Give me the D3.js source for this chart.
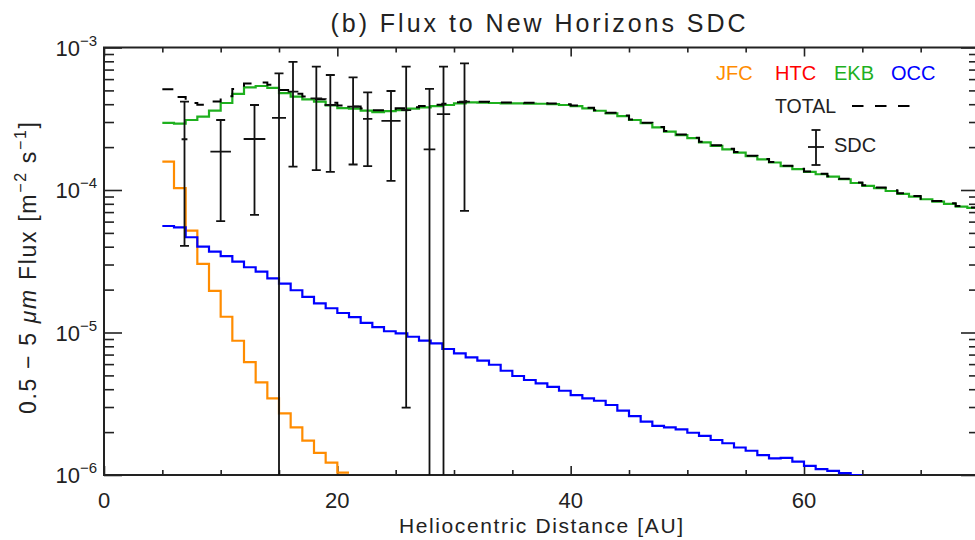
<!DOCTYPE html>
<html>
<head>
<meta charset="utf-8">
<script src="https://cdn.jsdelivr.net/npm/d3@7"></script>
<style>
  body { margin: 0; background: #fff; }
  text { font-family: "Liberation Sans", Arial, sans-serif; fill: #222; }
</style>
</head>
<body>
<svg id="chart" width="975" height="540"></svg>
<script>
// bin start (AU), each bin is 1 AU wide
var binStart = [5,6,7,8,9,10,11,12,13,14,15,16,17,18,19,20,21,22,23,24,25,26,27,28,29,30,
    31,32,33,34,35,36,37,38,39,40,41,42,43,44,45,46,47,48,49,50,51,52,53,54,55,56,57,58,59,60,
    61,62,63,64,65,66,67,68,69,70,71,72,73,74];

var jfc = [1.58e-4,1.03e-4,5.18e-5,3.03e-5,1.96e-5,1.29e-5,8.75e-6,6.2e-6,4.47e-6,3.45e-6,
    2.71e-6,2.16e-6,1.74e-6,1.43e-6,1.22e-6,1.04e-6];

var htc = [];

var ekb = [2.96e-4,2.92e-4,3.10e-4,3.27e-4,3.61e-4,4.08e-4,4.72e-4,5.25e-4,5.37e-4,5.20e-4,
    4.78e-4,4.52e-4,4.33e-4,4.17e-4,3.93e-4,3.76e-4,3.72e-4,3.61e-4,3.52e-4,3.58e-4,
    3.64e-4,3.72e-4,3.80e-4,3.88e-4,3.95e-4,4.06e-4,4.12e-4,4.10e-4,4.08e-4,4.06e-4,
    4.05e-4,4.04e-4,4.03e-4,4.00e-4,3.95e-4,3.88e-4,3.74e-4,3.60e-4,3.45e-4,3.30e-4,
    3.10e-4,2.94e-4,2.75e-4,2.57e-4,2.43e-4,2.31e-4,2.16e-4,2.04e-4,1.93e-4,1.83e-4,
    1.73e-4,1.64e-4,1.56e-4,1.47e-4,1.40e-4,1.34e-4,1.29e-4,1.24e-4,1.19e-4,1.12e-4,
    1.07e-4,1.03e-4,9.84e-5,9.38e-5,8.98e-5,8.61e-5,8.28e-5,7.98e-5,7.64e-5,7.48e-5];

var occ = [5.59e-5,5.47e-5,4.66e-5,4.00e-5,3.69e-5,3.44e-5,3.14e-5,2.87e-5,2.67e-5,2.40e-5,
    2.20e-5,1.98e-5,1.78e-5,1.60e-5,1.48e-5,1.37e-5,1.28e-5,1.17e-5,1.09e-5,1.02e-5,
    9.87e-6,9.34e-6,8.76e-6,8.40e-6,7.66e-6,7.14e-6,6.70e-6,6.34e-6,5.94e-6,5.39e-6,
    4.95e-6,4.64e-6,4.40e-6,4.16e-6,3.90e-6,3.64e-6,3.45e-6,3.32e-6,3.10e-6,2.83e-6,
    2.59e-6,2.37e-6,2.21e-6,2.16e-6,2.09e-6,1.98e-6,1.88e-6,1.76e-6,1.67e-6,1.56e-6,
    1.48e-6,1.38e-6,1.31e-6,1.32e-6,1.24e-6,1.16e-6,1.10e-6,1.07e-6,1.03e-6,1.00e-6];

var total = [5.10e-4,4.50e-4,4.08e-4,3.97e-4,4.18e-4,4.55e-4,5.12e-4,5.60e-4,5.68e-4,5.47e-4,
    5.03e-4,4.74e-4,4.53e-4,4.34e-4,4.09e-4,3.91e-4,3.85e-4,3.73e-4,3.63e-4,3.68e-4,
    3.74e-4,3.81e-4,3.89e-4,3.96e-4,4.03e-4,4.13e-4,4.19e-4,4.16e-4,4.14e-4,4.11e-4,
    4.10e-4,4.09e-4,4.07e-4,4.04e-4,3.99e-4,3.92e-4,3.77e-4,3.63e-4,3.48e-4,3.33e-4,
    3.13e-4,2.96e-4,2.77e-4,2.59e-4,2.45e-4,2.33e-4,2.18e-4,2.06e-4,1.95e-4,1.85e-4,
    1.74e-4,1.65e-4,1.57e-4,1.48e-4,1.41e-4,1.35e-4,1.30e-4,1.25e-4,1.20e-4,1.13e-4,
    1.08e-4,1.04e-4,9.94e-5,9.47e-5,9.07e-5,8.69e-5,8.36e-5,8.06e-5,7.72e-5,7.55e-5];

// SDC measurements (0 = lower end below the plot)
var sdcDist = [6.9,10.0,12.9,15.0,16.2,18.2,19.4,21.35,22.6,24.6,25.9,27.9,29.1,30.9];
var sdcFlux = [2.27e-4,1.86e-4,2.28e-4,3.21e-4,4.90e-4,4.40e-4,3.95e-4,3.85e-4,3.16e-4,3.06e-4,3.64e-4,1.93e-4,3.41e-4,4.17e-4];
var sdcHigh = [4.17e-4,3.10e-4,3.95e-4,6.59e-4,7.94e-4,7.33e-4,6.41e-4,6.18e-4,4.85e-4,4.95e-4,7.33e-4,5.12e-4,7.33e-4,7.74e-4];
var sdcLow  = [4.06e-5,6.05e-5,6.68e-5,0,1.46e-4,1.38e-4,1.34e-4,1.51e-4,1.47e-4,1.16e-4,2.97e-6,0,0,7.13e-5];
var sdcDx   = [0.25,0.88,0.93,0.6,0.46,0.5,0.5,0.5,0.4,0.82,0.43,0.5,0.57,0.46];

var xMajor = [0,20,40,60];
var xMinor = [5,10,15,25,30,35,45,50,55,65,70,75];
var yMajor = [1e-6,1e-5,1e-4,1e-3];
var yExp = ["\u22126","\u22125","\u22124","\u22123"];

var colors = {jfc: "#ff8c00", htc: "#ff0000", ekb: "#1eb01e", occ: "#0000ff", total: "#000"};

var svg = d3.select("#chart");
var x = d3.scaleLinear().domain([0, 75]).range([104, 979]);
var y = d3.scaleLog().domain([1e-6, 1e-3]).range([475, 47.5]);
var pTop = y.range()[1], pBottom = y.range()[0], pLeft = x.range()[0], pRight = x.range()[1];

var yMinor = [];
yMajor.slice(0, 3).forEach(function(d){
    for (var k = 2; k <= 9; k++) yMinor.push(d * k);
});

svg.append("defs").append("clipPath").attr("id", "plotclip")
    .append("rect")
    .attr("x", pLeft).attr("y", pTop)
    .attr("width", pRight - pLeft).attr("height", pBottom - pTop);

// ticks (inward, all four sides)
function tickAxis(axis, transform, vals, size){
    var g = svg.append("g").attr("transform", transform)
        .call(axis.tickValues(vals).tickSize(size).tickFormat(""));
    g.select(".domain").remove();
    g.selectAll(".tick line").attr("stroke", "#222").attr("stroke-width", 1.6);
    return g;
}
tickAxis(d3.axisBottom(x), "translate(0," + pBottom + ")", xMajor, -9);
tickAxis(d3.axisBottom(x), "translate(0," + pBottom + ")", xMinor, -5);
tickAxis(d3.axisTop(x), "translate(0," + pTop + ")", xMajor, -9);
tickAxis(d3.axisTop(x), "translate(0," + pTop + ")", xMinor, -5);
tickAxis(d3.axisLeft(y), "translate(" + pLeft + ",0)", yMajor, -18);
tickAxis(d3.axisLeft(y), "translate(" + pLeft + ",0)", yMinor, -10);
tickAxis(d3.axisRight(y), "translate(" + pRight + ",0)", yMajor, -18);
tickAxis(d3.axisRight(y), "translate(" + pRight + ",0)", yMinor, -10);

svg.append("rect")
    .attr("x", pLeft).attr("y", pTop)
    .attr("width", pRight - pLeft).attr("height", pBottom - pTop)
    .attr("fill", "none").attr("stroke", "#222").attr("stroke-width", 2);

// tick labels
svg.append("g").selectAll("text").data(xMajor).join("text")
    .attr("x", function(d){ return x(d); })
    .attr("y", 508)
    .attr("text-anchor", "middle")
    .attr("font-size", 22)
    .text(function(d){ return d; });

var yl = svg.append("g").selectAll("text").data(yMajor).join("text")
    .attr("x", 97)
    .attr("y", function(d){ return y(d) + 8; })
    .attr("text-anchor", "end")
    .attr("font-size", 22);
yl.append("tspan").text("10");
yl.append("tspan").attr("font-size", 15).attr("dy", -10)
    .text(function(d, i){ return yExp[i]; });

// step lines
var line = d3.line()
    .x(function(d){ return x(d[0]); })
    .y(function(d){ return y(d[1]); })
    .curve(d3.curveStepAfter);

function steps(vals){
    var pts = vals.map(function(v, i){ return [binStart[i], v]; });
    if (vals.length) pts.push([binStart[vals.length - 1] + 1, vals[vals.length - 1]]);
    return pts;
}

var plot = svg.append("g").attr("clip-path", "url(#plotclip)");

[["jfc", jfc], ["htc", htc], ["occ", occ], ["ekb", ekb]].forEach(function(s){
    if (!s[1].length) return;
    plot.append("path")
        .attr("d", line(steps(s[1])))
        .attr("fill", "none")
        .attr("stroke", colors[s[0]])
        .attr("stroke-width", 2.2);
});

plot.append("path")
    .attr("d", line(steps(total)))
    .attr("fill", "none")
    .attr("stroke", "#000")
    .attr("stroke-width", 2)
    .attr("stroke-dasharray", "11,12");

// SDC error bars
var bars = plot.selectAll("g.sdc").data(sdcDist).join("g").attr("class", "sdc")
    .attr("stroke", "#111").attr("stroke-width", 1.8);
bars.append("line")
    .attr("x1", function(d){ return x(d); }).attr("x2", function(d){ return x(d); })
    .attr("y1", function(d, i){ return y(sdcHigh[i]); })
    .attr("y2", function(d, i){ return sdcLow[i] > 0 ? y(sdcLow[i]) : pBottom + 5; });
bars.append("line")
    .attr("x1", function(d){ return x(d) - 4.5; }).attr("x2", function(d){ return x(d) + 4.5; })
    .attr("y1", function(d, i){ return y(sdcHigh[i]); })
    .attr("y2", function(d, i){ return y(sdcHigh[i]); });
bars.filter(function(d, i){ return sdcLow[i] > 0; }).append("line")
    .attr("x1", function(d){ return x(d) - 4.5; }).attr("x2", function(d){ return x(d) + 4.5; })
    .attr("y1", function(d){ var i = sdcDist.indexOf(d); return y(sdcLow[i]); })
    .attr("y2", function(d){ var i = sdcDist.indexOf(d); return y(sdcLow[i]); });
bars.append("line")
    .attr("x1", function(d, i){ return x(d - sdcDx[i]); })
    .attr("x2", function(d, i){ return x(d + sdcDx[i]); })
    .attr("y1", function(d, i){ return y(sdcFlux[i]); })
    .attr("y2", function(d, i){ return y(sdcFlux[i]); });

// legend
var legendNames = [["JFC", "jfc", 716], ["HTC", "htc", 775], ["EKB", "ekb", 834], ["OCC", "occ", 891]];
svg.append("g").selectAll("text").data(legendNames).join("text")
    .attr("x", function(d){ return d[2]; })
    .attr("y", 80)
    .attr("font-size", 20)
    .style("fill", function(d){ return colors[d[1]]; })
    .text(function(d){ return d[0]; });

svg.append("text").attr("x", 775).attr("y", 113).attr("font-size", 19.5).text("TOTAL");
svg.append("line")
    .attr("x1", 852).attr("x2", 910).attr("y1", 106).attr("y2", 106)
    .attr("stroke", "#000").attr("stroke-width", 2).attr("stroke-dasharray", "11.5,11.5");

var lg = svg.append("g").attr("stroke", "#111").attr("stroke-width", 1.8);
lg.append("line").attr("x1", 816).attr("x2", 816).attr("y1", 130).attr("y2", 165);
lg.append("line").attr("x1", 811.5).attr("x2", 820.5).attr("y1", 130).attr("y2", 130);
lg.append("line").attr("x1", 811.5).attr("x2", 820.5).attr("y1", 165).attr("y2", 165);
lg.append("line").attr("x1", 808).attr("x2", 824).attr("y1", 147).attr("y2", 147);
svg.append("text").attr("x", 834).attr("y", 152).attr("font-size", 20).text("SDC");

// titles
svg.append("text")
    .attr("x", 538).attr("y", 32)
    .attr("text-anchor", "middle")
    .attr("font-size", 25)
    .attr("textLength", 415)
    .text("(b) Flux to New Horizons SDC");

svg.append("text")
    .attr("x", 541).attr("y", 533)
    .attr("text-anchor", "middle")
    .attr("font-size", 21)
    .attr("textLength", 284)
    .text("Heliocentric Distance [AU]");

var ylab = svg.append("text")
    .attr("transform", "translate(36,268) rotate(-90)")
    .attr("text-anchor", "middle")
    .attr("font-size", 23)
    .attr("textLength", 292)
    .attr("lengthAdjust", "spacing");
ylab.append("tspan").text("0.5 \u2212 5 ");
ylab.append("tspan").attr("font-style", "italic").text("\u03bcm");
ylab.append("tspan").text(" Flux [m");
ylab.append("tspan").attr("font-size", 16).attr("dy", -10).text("\u22122");
ylab.append("tspan").attr("dy", 10).text(" s");
ylab.append("tspan").attr("font-size", 16).attr("dy", -10).text("\u22121");
ylab.append("tspan").attr("dy", 10).text("]");
</script>
</body>
</html>
